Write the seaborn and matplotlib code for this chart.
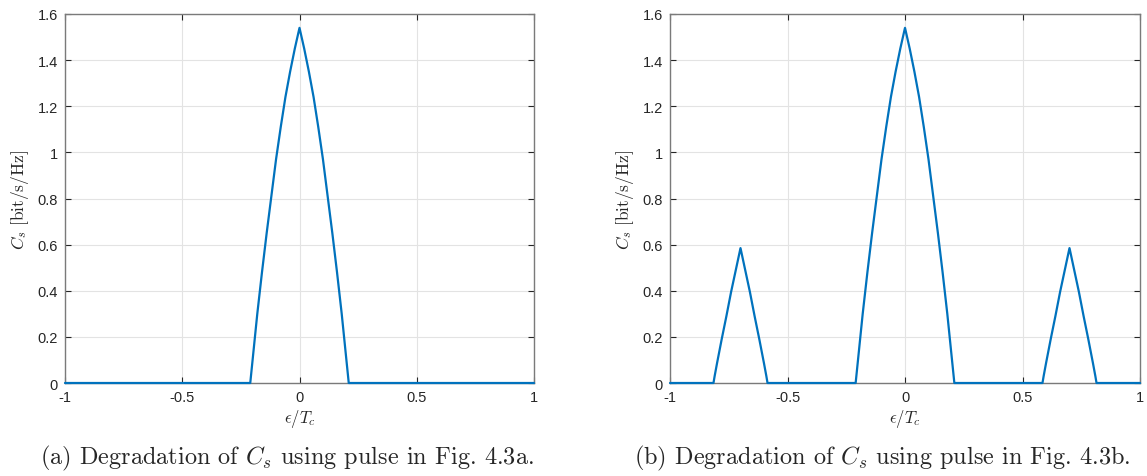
import matplotlib
matplotlib.use("Agg")
import matplotlib.pyplot as plt
import seaborn as sns
import pandas as pd

# ---- data ----
x_a = [-1.0, -0.21, -0.20, -0.18, -0.16, -0.14, -0.12, -0.10, -0.08, -0.06, -0.04, -0.02, 0.0,
       0.02, 0.04, 0.06, 0.08, 0.10, 0.12, 0.14, 0.16, 0.18, 0.20, 0.21, 1.0]
cs_a = [0.0, 0.0, 0.10, 0.30, 0.48, 0.65, 0.81, 0.97, 1.11, 1.24, 1.35, 1.45, 1.54,
        1.45, 1.35, 1.24, 1.11, 0.97, 0.81, 0.65, 0.48, 0.30, 0.10, 0.0, 0.0]

x_b = [-1.0, -0.815, -0.81, -0.80, -0.78, -0.76, -0.74, -0.72, -0.70, -0.68, -0.66, -0.64,
       -0.62, -0.60, -0.59, -0.585,
       -0.21, -0.20, -0.18, -0.16, -0.14, -0.12, -0.10, -0.08, -0.06, -0.04, -0.02, 0.0,
       0.02, 0.04, 0.06, 0.08, 0.10, 0.12, 0.14, 0.16, 0.18, 0.20, 0.21,
       0.585, 0.59, 0.60, 0.62, 0.64, 0.66, 0.68, 0.70, 0.72, 0.74, 0.76, 0.78, 0.80, 0.81,
       0.815, 1.0]
cs_b = [0.0, 0.0, 0.03, 0.085, 0.19, 0.29, 0.395, 0.49, 0.585, 0.49, 0.395, 0.29,
        0.19, 0.085, 0.03, 0.0,
        0.0, 0.10, 0.30, 0.48, 0.65, 0.81, 0.97, 1.11, 1.24, 1.35, 1.45, 1.54,
        1.45, 1.35, 1.24, 1.11, 0.97, 0.81, 0.65, 0.48, 0.30, 0.10, 0.0,
        0.0, 0.03, 0.085, 0.19, 0.29, 0.395, 0.49, 0.585, 0.49, 0.395, 0.29, 0.19, 0.085, 0.03,
        0.0, 0.0]

x_ticks = [-1, -0.5, 0, 0.5, 1]
x_tick_labels = ["-1", "-0.5", "0", "0.5", "1"]
y_ticks = [0, 0.2, 0.4, 0.6, 0.8, 1.0, 1.2, 1.4, 1.6]
y_tick_labels = ["0", "0.2", "0.4", "0.6", "0.8", "1", "1.2", "1.4", "1.6"]
captions = [r"(a) Degradation of $C_s$ using pulse in Fig. 4.3a.",
            r"(b) Degradation of $C_s$ using pulse in Fig. 4.3b."]

sns.set_theme(style="white")
plt.rcParams["font.family"] = ["Liberation Sans", "DejaVu Sans"]
plt.rcParams["mathtext.fontset"] = "cm"
plt.rcParams["axes.unicode_minus"] = False

fig = plt.figure(figsize=(11.47, 4.77), dpi=100)
W, H = 1147, 477
ax_a = fig.add_axes([65 / W, 1 - 384 / H, 469 / W, 369 / H])
ax_b = fig.add_axes([670 / W, 1 - 384 / H, 470 / W, 369 / H])

df_a = pd.DataFrame({"x": x_a, "cs": cs_a})
df_b = pd.DataFrame({"x": x_b, "cs": cs_b})

for ax, df in [(ax_a, df_a), (ax_b, df_b)]:
    sns.lineplot(data=df, x="x", y="cs", ax=ax, color="#0072BD", linewidth=1.6,
                 sort=False, estimator=None, zorder=3, clip_on=False)
    ax.set_xlim(-1, 1)
    ax.set_ylim(0, 1.6)
    ax.set_xticks(x_ticks)
    ax.set_xticklabels(x_tick_labels)
    ax.set_yticks(y_ticks)
    ax.set_yticklabels(y_tick_labels)
    ax.grid(True, color="#e3e3e3", linewidth=0.8)
    ax.set_axisbelow(True)
    for s in ax.spines.values():
        s.set_color("#7a7a7a")
        s.set_linewidth(1.0)
        s.set_visible(True)
    ax.tick_params(direction="in", length=4, width=0.8, color="#262626",
                   top=True, right=True, bottom=True, left=True,
                   labelsize=10.5, labelcolor="#262626", pad=5)
    ax.set_xlabel(r"$\epsilon/T_c$", fontsize=12, color="#262626", labelpad=2)
    ax.set_ylabel(r"$C_s\ [\mathrm{bit/s/Hz}]$", fontsize=12.5, color="#262626", labelpad=5)

fig.text(287 / W, 1 - 458 / H, captions[0], ha="center", va="center",
         fontsize=17.5, family="cmr10")
fig.text(882 / W, 1 - 458 / H, captions[1], ha="center", va="center",
         fontsize=17.5, family="cmr10")

fig.savefig("out.png", dpi=100)
